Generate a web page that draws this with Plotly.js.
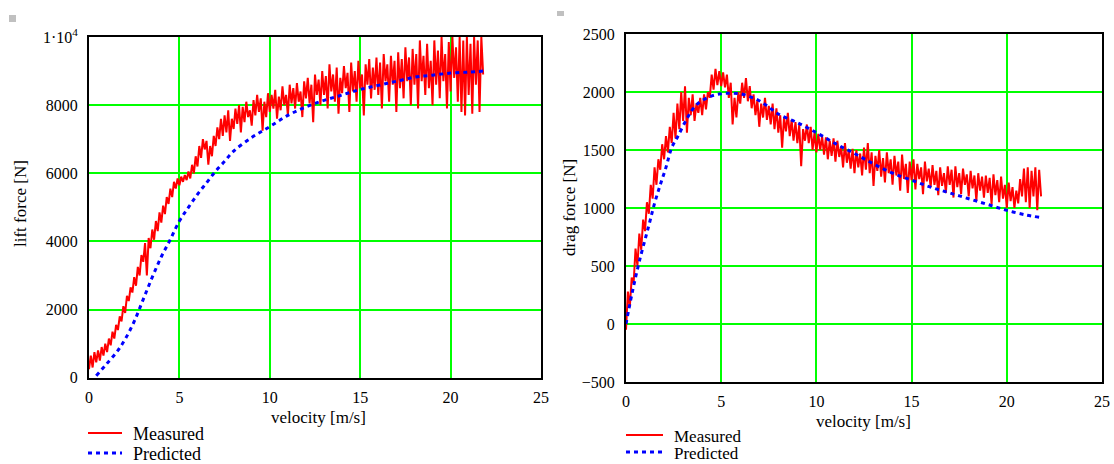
<!DOCTYPE html>
<html>
<head>
<meta charset="utf-8">
<script src="https://cdn.plot.ly/plotly-3.0.1.min.js"></script>
<style>
html,body{margin:0;padding:0;background:#fff;}
#chart{width:1114px;height:464px;}
</style>
</head>
<body>
<div id="chart"></div>
<script>
// ---------- data ----------
// measured series are sampled at a uniform velocity step
const measStart = 0.0;
const measStep = 0.1;

const liftMeasured = [
  250,650,300,750,450,800,500,900,650,1000,
  750,1150,950,1350,1150,1550,1400,1800,1650,2100,
  1900,2400,2250,2650,2500,2950,2700,3250,3000,3600,
  3400,3950,3000,4100,3800,4350,4050,4600,4300,4850,
  4550,5050,4800,5300,5100,5550,5300,5750,5550,5850,
  5650,5900,5750,5950,5800,6050,5850,6250,6000,6500,
  6200,6800,6450,7000,6700,6950,6250,6800,6500,7100,
  6800,7350,7000,7600,7100,7700,7200,7850,6950,7600,
  7300,7900,7450,8000,7200,7950,7500,8100,7650,7850,
  7400,8150,7700,8300,7800,8200,7250,8100,7650,8350,
  7800,8300,7900,8450,7600,8250,7850,8550,8000,8300,
  7700,8600,8050,8500,7900,8650,8100,8400,7650,8700,
  8200,8800,8050,8600,7500,8900,8300,8750,8000,9000,
  8300,8850,7900,9200,8400,8900,8100,9100,7750,8800,
  8350,9150,8500,8950,7800,9250,8400,9000,8100,9300,
  8500,8900,7700,9200,8600,9350,8200,9100,8450,9400,
  8300,9250,7900,9500,8700,9200,8100,9450,8600,9300,
  7800,9550,8500,9350,8200,9700,8700,9400,8000,9650,
  8600,9500,7900,9900,8700,9450,8300,9800,8500,9300,
  8000,9900,8600,9600,8200,10000,8700,9500,7900,9850,
  8400,10000,8800,9700,8100,10000,7800,9900,7700,10000,
  8300,9800,7750,10000,8600,9900,7800,10000,8900
];

const liftPredV = [0.4,1.0,1.6,2.0,2.5,3.0,3.5,4.0,4.5,5.0,5.5,6.0,6.5,7.0,7.5,8.0,9,10,11,12,13,14,15,16,17,18,19,20,21,21.8];
const liftPredF = [60,420,800,1130,1650,2300,2950,3550,4060,4600,5000,5380,5720,6060,6350,6650,7050,7370,7700,7950,8140,8300,8460,8580,8700,8820,8880,8940,8970,9000];

const dragMeasured = [
  -50,280,150,400,350,650,500,780,640,900,
  800,1050,950,1200,1080,1350,1200,1420,1330,1550,
  1420,1620,1480,1700,1560,1820,1600,1900,1680,2000,
  1750,2050,1650,1950,1800,1980,1750,1900,1820,1950,
  1800,1980,1850,2000,1950,2150,2020,2200,2060,2180,
  2050,2170,2040,2150,1950,2080,1720,1950,1780,2000,
  1900,2080,1950,2120,1920,2050,1860,1980,1800,1930,
  1700,1900,1780,1950,1760,1880,1720,1900,1680,1860,
  1650,1800,1520,1780,1660,1820,1620,1760,1580,1740,
  1560,1720,1360,1680,1580,1720,1560,1700,1500,1650,
  1480,1640,1500,1620,1460,1610,1420,1580,1450,1600,
  1400,1580,1440,1530,1350,1560,1390,1500,1340,1510,
  1300,1500,1350,1470,1280,1520,1330,1560,1300,1480,
  1190,1450,1320,1500,1270,1430,1220,1480,1300,1420,
  1200,1450,1280,1400,1150,1460,1250,1380,1130,1400,
  1240,1420,1160,1380,1250,1350,1120,1400,1230,1340,
  1180,1370,1200,1320,1110,1350,1190,1300,1130,1360,
  1200,1330,1090,1360,1180,1300,1120,1340,1200,1290,
  1100,1320,1170,1280,1060,1300,1150,1270,1090,1280,
  1130,1260,1030,1290,1110,1240,1050,1270,1080,1200,
  1000,1220,1060,1180,1000,1150,1040,1250,1100,1340,
  1050,1350,1000,1320,1100,1350,980,1330,1100
];

const dragPredV = [0,0.3,0.7,1.2,1.5,1.8,2.1,2.4,2.7,3.2,3.7,4.4,5,5.5,6,6.5,7,7.5,8,9,10,11,12,13,14,15,16,17,18,19,20,21,21.7];
const dragPredF = [0,250,540,850,1040,1200,1350,1520,1610,1770,1890,1960,1985,1990,1985,1960,1925,1870,1810,1735,1650,1555,1470,1380,1300,1240,1180,1130,1080,1030,980,940,920];

const xTicks = [0,5,10,15,20,25];
const liftTicks = [0,2000,4000,6000,8000,10000];
const liftTickText = ['0','2000','4000','6000','8000','1\u00b710<sup>4</sup>'];
const dragTicks = [-500,0,500,1000,1500,2000,2500];
const dragTickText = ['\u2212500','0','500','1000','1500','2000','2500'];

const seriesNames = ['Measured','Predicted'];

// ---------- build ----------
const velocity = (arr) => arr.map((_, i) => +(measStart + i * measStep).toFixed(2));

const W = 1114, H = 464;
const px = (v) => v / W;            // paper x from pixel
const py = (v) => (H - v) / H;      // paper y from pixel (top-down)
const FAM = '"Liberation Serif", "Times New Roman", serif';
const TICKFONT = {family:FAM, size:16, color:'#000'};
const TITLEFONT = {family:FAM, size:17, color:'#000'};
const LEGFONT = {family:FAM, size:18, color:'#000'};
const LEGFONT2 = {family:FAM, size:17, color:'#000'};
const RED = '#ff0000', BLUE = '#0000ff', GRID = '#00ff00';
const redLine = {color:RED, width:2};
const blueLine = {color:BLUE, width:3, dash:'4px,4px'};

const traces = [
  {x: velocity(liftMeasured), y: liftMeasured, xaxis:'x', yaxis:'y', mode:'lines', name:seriesNames[0], line:redLine},
  {x: liftPredV, y: liftPredF, xaxis:'x', yaxis:'y', mode:'lines', name:seriesNames[1], line:Object.assign({shape:'spline'}, blueLine)},
  {x: velocity(dragMeasured), y: dragMeasured, xaxis:'x2', yaxis:'y2', mode:'lines', name:seriesNames[0], line:redLine},
  {x: dragPredV, y: dragPredF, xaxis:'x2', yaxis:'y2', mode:'lines', name:seriesNames[1], line:Object.assign({shape:'spline'}, blueLine)}
];

function xAx(domain, anchor){
  return {domain, anchor, range:[0,25], tickvals:xTicks, ticktext:xTicks.map(String),
    showgrid:true, gridcolor:GRID, gridwidth:2, zeroline:false,
    showline:true, mirror:true, linecolor:'#000', linewidth:2,
    ticks:'outside', ticklen:4, tickcolor:'rgba(0,0,0,0)', tickfont:TICKFONT, fixedrange:true};
}
function yAx(domain, anchor, range, vals, text){
  return {domain, anchor, range, tickvals:vals, ticktext:text,
    showgrid:true, gridcolor:GRID, gridwidth:2, zeroline:false,
    showline:true, mirror:true, linecolor:'#000', linewidth:2,
    ticks:'outside', ticklen:6, tickcolor:'rgba(0,0,0,0)', tickfont:TICKFONT, fixedrange:true};
}

// legend blocks (sample line + label), one per chart
function legendBlock(x0, x1, textX, yTop, gap, font){
  const shapes = [
    {type:'line', xref:'paper', yref:'paper', x0:px(x0), x1:px(x1), y0:py(yTop), y1:py(yTop), line:redLine},
    {type:'line', xref:'paper', yref:'paper', x0:px(x0), x1:px(x1), y0:py(yTop+gap), y1:py(yTop+gap), line:blueLine}
  ];
  const ann = seriesNames.map((n, i) => ({text:n, xref:'paper', yref:'paper', x:px(textX), y:py(yTop + i*gap + 1),
    xanchor:'left', yanchor:'middle', showarrow:false, font:font}));
  return {shapes, ann};
}
const legL = legendBlock(88, 122, 131, 433, 20, LEGFONT);
const legR = legendBlock(626, 663, 672, 435, 17, LEGFONT2);

const layout = {
  width:W, height:H, autosize:false,
  margin:{l:0,r:0,t:0,b:0, autoexpand:false},
  paper_bgcolor:'#fff', plot_bgcolor:'#fff',
  font:TICKFONT, showlegend:false,
  xaxis: xAx([px(89), px(541)], 'y'),
  yaxis: yAx([py(377.7), py(37)], 'x', [0,10000], liftTicks, liftTickText),
  xaxis2: xAx([px(626), px(1102)], 'y2'),
  yaxis2: yAx([py(382), py(34)], 'x2', [-500,2500], dragTicks, dragTickText),
  annotations: [
    {text:'lift force [N]', xref:'paper', yref:'paper', x:px(20), y:py(204), textangle:-90,
     showarrow:false, font:TITLEFONT, xanchor:'center', yanchor:'middle'},
    {text:'velocity [m/s]', xref:'paper', yref:'paper', x:px(318), y:py(417),
     showarrow:false, font:TITLEFONT, xanchor:'center', yanchor:'middle'},
    {text:'drag force [N]', xref:'paper', yref:'paper', x:px(569), y:py(208), textangle:-90,
     showarrow:false, font:TITLEFONT, xanchor:'center', yanchor:'middle'},
    {text:'velocity [m/s]', xref:'paper', yref:'paper', x:px(863), y:py(421),
     showarrow:false, font:TITLEFONT, xanchor:'center', yanchor:'middle'}
  ].concat(legL.ann, legR.ann),
  shapes: [
    {type:'rect', xref:'paper', yref:'paper', x0:px(9), x1:px(16), y0:py(22), y1:py(15),
     fillcolor:'#c0c0c0', line:{width:0}},
    {type:'rect', xref:'paper', yref:'paper', x0:px(557), x1:px(564), y0:py(16), y1:py(11),
     fillcolor:'#c0c0c0', line:{width:0}}
  ].concat(legL.shapes, legR.shapes)
};

Plotly.newPlot('chart', traces, layout, {displayModeBar:false, staticPlot:true});
</script>
</body>
</html>
